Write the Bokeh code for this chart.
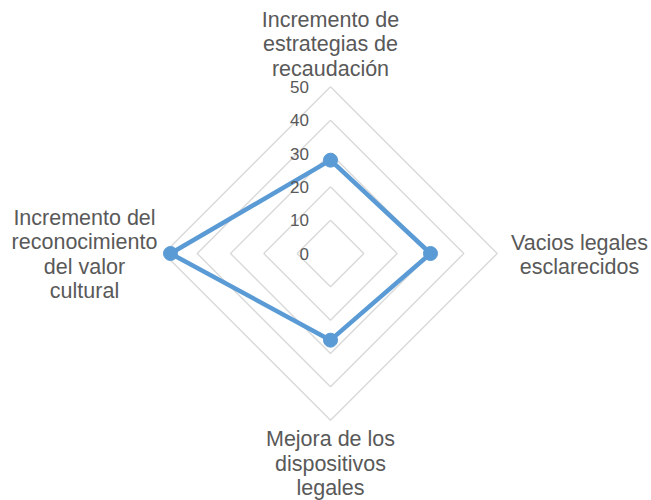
import numpy as np
from bokeh.plotting import figure
from bokeh.models import Range1d
from bokeh.core.properties import value
from bokeh.embed import file_html
from bokeh.resources import INLINE

# ---- data ----
categories = [
    "Incremento de estrategias de recaudación",
    "Vacios legales esclarecidos",
    "Mejora de los dispositivos legales",
    "Incremento del reconocimiento del valor cultural",
]
category_lines = [
    ["Incremento de", "estrategias de", "recaudación"],
    ["Vacios legales", "esclarecidos"],
    ["Mejora de los", "dispositivos", "legales"],
    ["Incremento del", "reconocimiento", "del valor", "cultural"],
]
values = [28, 30, 26, 48]
tick_values = [0, 10, 20, 30, 40, 50]
tick_labels = ["0", "10", "20", "30", "40", "50"]

# ---- layout ----
W, H = 651, 500
S = 10 / 3.0           # pixels per unit
CX, CY = 330, 253      # canvas center in pixels
FONT = "Liberation Sans"
TXT = "#595959"
BLUE = "#5B9BD5"
GRID = "#D9D9D9"

p = figure(width=W, height=H, output_backend="svg", toolbar_location=None,
           x_axis_type=None, y_axis_type=None,
           x_range=Range1d(-CX / S, (W - CX) / S),
           y_range=Range1d(-(H - CY) / S, CY / S),
           min_border=0)
p.grid.visible = False
p.outline_line_color = None
p.background_fill_color = "white"
p.border_fill_color = "white"

n = len(categories)
angles = [np.pi / 2 - i * 2 * np.pi / n for i in range(n)]
cosv = np.cos(angles)
sinv = np.sin(angles)

# grid diamonds
for t in tick_values[1:]:
    xs = list(t * cosv) + [t * cosv[0]]
    ys = list(t * sinv) + [t * sinv[0]]
    p.line(xs, ys, line_color=GRID, line_width=1.4)

# series
vx = [v * c for v, c in zip(values, cosv)]
vy = [v * s for v, s in zip(values, sinv)]
p.line(vx + [vx[0]], vy + [vy[0]], line_color=BLUE, line_width=4.5, line_join="round")
p.scatter(vx, vy, size=14, fill_color=BLUE, line_color=BLUE)

# tick labels (to the left of the top axis)
p.text(x=[-21.5 / S] * len(tick_values), y=tick_values, text=tick_labels,
       text_font=value(FONT), text_font_size="17px", text_color=TXT,
       text_align="right", text_baseline="middle")

# category labels: (center x px, first baseline px)
label_pos = [(330, 19), (579, 242), (330, 438.5), (84, 217)]
LH = 24.5
lx, ly, lt = [], [], []
for (px, py), lines in zip(label_pos, category_lines):
    for k, line in enumerate(lines):
        lx.append((px - CX) / S)
        ly.append((CY - (py + k * LH)) / S)
        lt.append(line)
p.text(x=lx, y=ly, text=lt, text_font=value(FONT), text_font_size="21.5px",
       text_color=TXT, text_align="center", text_baseline="alphabetic")

open("out.html", "w").write(file_html(p, INLINE))
